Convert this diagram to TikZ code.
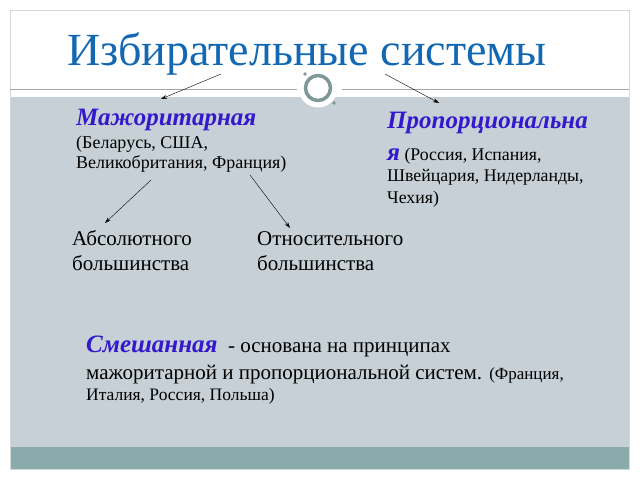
\documentclass[tikz,border=0pt]{standalone}
\usepackage{fontspec}
\setmainfont{Liberation Serif}
\usetikzlibrary{arrows.meta}
\definecolor{titleblue}{HTML}{1268B3}
\definecolor{headblue}{HTML}{3318CC}
\definecolor{bandgray}{HTML}{C6D0D6}
\definecolor{stripteal}{HTML}{8AABAC}
\definecolor{ringteal}{HTML}{7E9898}
\definecolor{framegray}{HTML}{D3DADC}
\newcommand{\fs}[2]{\fontsize{#1}{#2}\selectfont}
\newcommand{\hd}[1]{\textcolor{headblue}{\bfseries\itshape #1}}
\tikzset{
  txt/.style={anchor=base west, inner sep=0pt, align=left},
  arr/.style={-{Stealth[length=6pt,width=4pt]}, thin}
}
\begin{document}
\begin{tikzpicture}[x=1pt,y=-1pt]
\useasboundingbox (0,0) rectangle (640,480);
\fill [white] (0,0) rectangle (640,480);
\fill [bandgray] (10,97) rectangle (629,447);
\fill [stripteal] (10,447) rectangle (629,469);
\draw [framegray] (10,10) rectangle (629,469);
\draw [gray!70] (10,89) -- (297,89) (342,89) -- (629,89);
\fill [white] (318,88) circle (19.5);
\draw [ringteal, line width=3.5pt] (318,88) circle (12.5);
\fill [ringteal] (305,74) circle (1.8) (334,103) circle (1.8);
% texts: a node's base is the baseline of its last line
\node [txt, font=\fs{46}{50}, text=titleblue] (title) at (67,65) {Избирательные системы};
\node [txt, font=\fs{18}{20}] (major) at (76,168)
  {{\fs{25}{20}\hd{Мажоритарная}}\\[3pt](Беларусь, США,\\Великобритания, Франция)};
\node [txt, font=\fs{17.8}{21.5}] (propor) at (387,203)
  {{\fs{25}{20}\hd{Пропорциональна}}\\[10pt]{\fs{25}{20}\hd{я}} (Россия, Испания,\\Швейцария, Нидерланды,\\Чехия)};
\node [txt, font=\fs{21}{25}] (absol) at (72,270) {Абсолютного\\большинства};
\node [txt, font=\fs{21}{25}] (relat) at (257,270) {Относительного\\большинства};
\node [txt, font=\fs{21}{27}] (mixed) at (86,400)
  {{\fs{25}{27}\hd{Смешанная}} \ - основана на принципах\\мажоритарной и пропорциональной систем. {\fs{17}{20}(Франция,}\\[-6pt]{\fs{17.5}{20}Италия, Россия, Польша)}};
\coordinate (t1) at (221,74);
\coordinate (t2) at (385,74);
\coordinate (m1) at (151,180);
\coordinate (m2) at (250,175);
\draw [arr] (t1) -- (161,99);
\draw [arr] (t2) -- (439,103);
\draw [arr] (m1) -- (105,223);
\draw [arr] (m2) -- (290,228);
\end{tikzpicture}
\end{document}
